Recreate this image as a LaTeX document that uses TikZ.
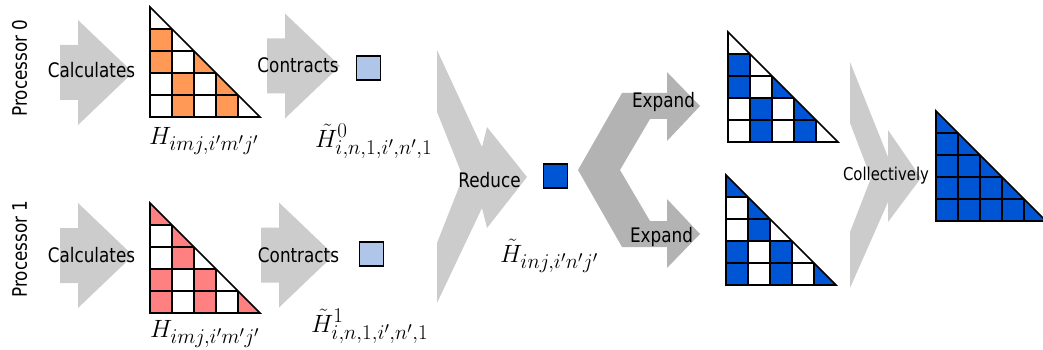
\RequirePackage{fix-cm}
\documentclass[tikz,border=0pt]{standalone}
\usepackage[no-math]{fontspec}
\newfontfamily\diagfont{DejaVu Sans}[FakeStretch=0.84]
\DeclareMathSizes{25}{25}{21}{16}
\definecolor{flowgray}{HTML}{CCCCCC}
\definecolor{expandgray}{HTML}{B3B3B3}
\definecolor{procorange}{HTML}{FF9955}
\definecolor{procred}{HTML}{FF8080}
\definecolor{partblue}{HTML}{AFC6E9}
\definecolor{fullblue}{HTML}{0055D4}
\tikzset{
  steptext/.style={font=\diagfont\fontsize{20}{24}\selectfont, inner sep=0pt, anchor=base},
  proctext/.style={steptext, rotate=90},
  mathtext/.style={font=\fontsize{25}{30}\selectfont, inner sep=0pt, anchor=base west},
  gridline/.style={line width=1.6pt, line join=miter},
  blocksq/.style={draw, line width=1.4pt, minimum size=24pt, inner sep=0pt}
}
% triangular matrix: origin, fill colour, filled cells (row/col)
\newcommand{\trimat}[3]{%
  \begin{scope}[shift={#1}]
    \foreach \row/\col in {#3} {
      \ifnum\row=\col
        \fill[#2] (\col*22,\row*22) -- (\col*22,\row*22+22) -- (\col*22+22,\row*22+22) -- cycle;
      \else
        \fill[#2] (\col*22,\row*22) rectangle ++(22,22);
      \fi
    }
    \foreach \k in {1,...,4} {
      \draw[gridline] (0,\k*22) -- (\k*22,\k*22);
      \draw[gridline] (\k*22,\k*22) -- (\k*22,110);
    }
    \draw[gridline] (0,0) -- (0,110) -- (110,110) -- cycle;
  \end{scope}}
% straight grey arrow: left end x, centre y
\newcommand{\flowarrow}[2]{%
  \fill[flowgray] (#1,#2-27.5) -- ++(18,0) -- ++(0,-25) -- (#1+73,#2)
    -- (#1+18,#2+52.5) -- ++(0,-25) -- (#1,#2+27.5) -- cycle;}
\begin{document}
\begin{tikzpicture}[x=1pt, y=-1pt]
  \useasboundingbox (0,0) rectangle (1043,350);

  % grey arrows
  \flowarrow{60}{72.5}
  \flowarrow{60}{255.5}
  \flowarrow{267}{66}
  \flowarrow{261}{255}
  \fill[flowgray] (437,50) -- (482,147) -- (487,127) -- (527,177) -- (487,228)
    -- (482,208) -- (437,303) -- (437,243) -- (463,177) -- (437,112) -- cycle;
  \fill[expandgray] (578,170) -- (622,93) -- (667,93) -- (667,72) -- (700,106)
    -- (667,141) -- (667,119) -- (650,119) -- (620,170) -- (650,221) -- (667,221)
    -- (667,199) -- (700,234) -- (667,268) -- (667,247) -- (622,247) -- cycle;
  \fill[flowgray] (850,62) -- (888,157) -- (888,130) -- (921,178) -- (888,222)
    -- (888,202) -- (850,288) -- (850,232) -- (871,178) -- (850,123) -- cycle;

  % matrices
  \trimat{(150,7)}{procorange}{1/0,2/0,2/2,3/1,3/3,4/1,4/3}
  \trimat{(150,203)}{procred}{0/0,1/1,2/1,3/0,3/2,4/0,4/2,4/4}
  \trimat{(728,32)}{fullblue}{1/0,2/0,2/2,3/1,3/3,4/1,4/3}
  \trimat{(726,175)}{fullblue}{0/0,1/1,2/1,3/0,3/2,4/0,4/2,4/4}
  \trimat{(936,111)}{fullblue}{0/0,1/0,1/1,2/0,2/1,2/2,3/0,3/1,3/2,3/3,4/0,4/1,4/2,4/3,4/4}

  % reduced blocks
  \node[blocksq, fill=partblue] (part0) at (368.5,68) {};
  \node[blocksq, fill=partblue] (part1) at (371.5,254) {};
  \node[blocksq, fill=fullblue] (sum) at (555.5,176) {};

  % texts
  \node[proctext] (proc0) at (27,68) {Processor 0};
  \node[proctext] (proc1) at (27,249) {Processor 1};
  \node[steptext] (calc0) at (91.5,78) {Calculates};
  \node[steptext] (calc1) at (91.5,262) {Calculates};
  \node[steptext] (contr0) at (298,73) {Contracts};
  \node[steptext] (contr1) at (298.5,262) {Contracts};
  \node[steptext] (reduce) at (489.5,187) {Reduce};
  \node[steptext] (expand0) at (663.5,108) {Expand};
  \node[steptext] (expand1) at (661.5,242) {Expand};
  \node[steptext, font=\diagfont\fontsize{17.7}{21}\selectfont] (coll) at (886,180) {Collectively};

  \node[mathtext] (ham0) at (149,144) {$H_{imj,i'm'j'}$};
  \node[mathtext] (ham1) at (150,337) {$H_{imj,i'm'j'}$};
  \node[mathtext] (red0) at (315,147) {$\tilde{H}^0_{i,n,1,i',n',1}$};
  \node[mathtext] (red1) at (311,332) {$\tilde{H}^1_{i,n,1,i',n',1}$};
  \node[mathtext] (redsum) at (500,262) {$\tilde{H}_{inj,i'n'j'}$};
\end{tikzpicture}
\end{document}
